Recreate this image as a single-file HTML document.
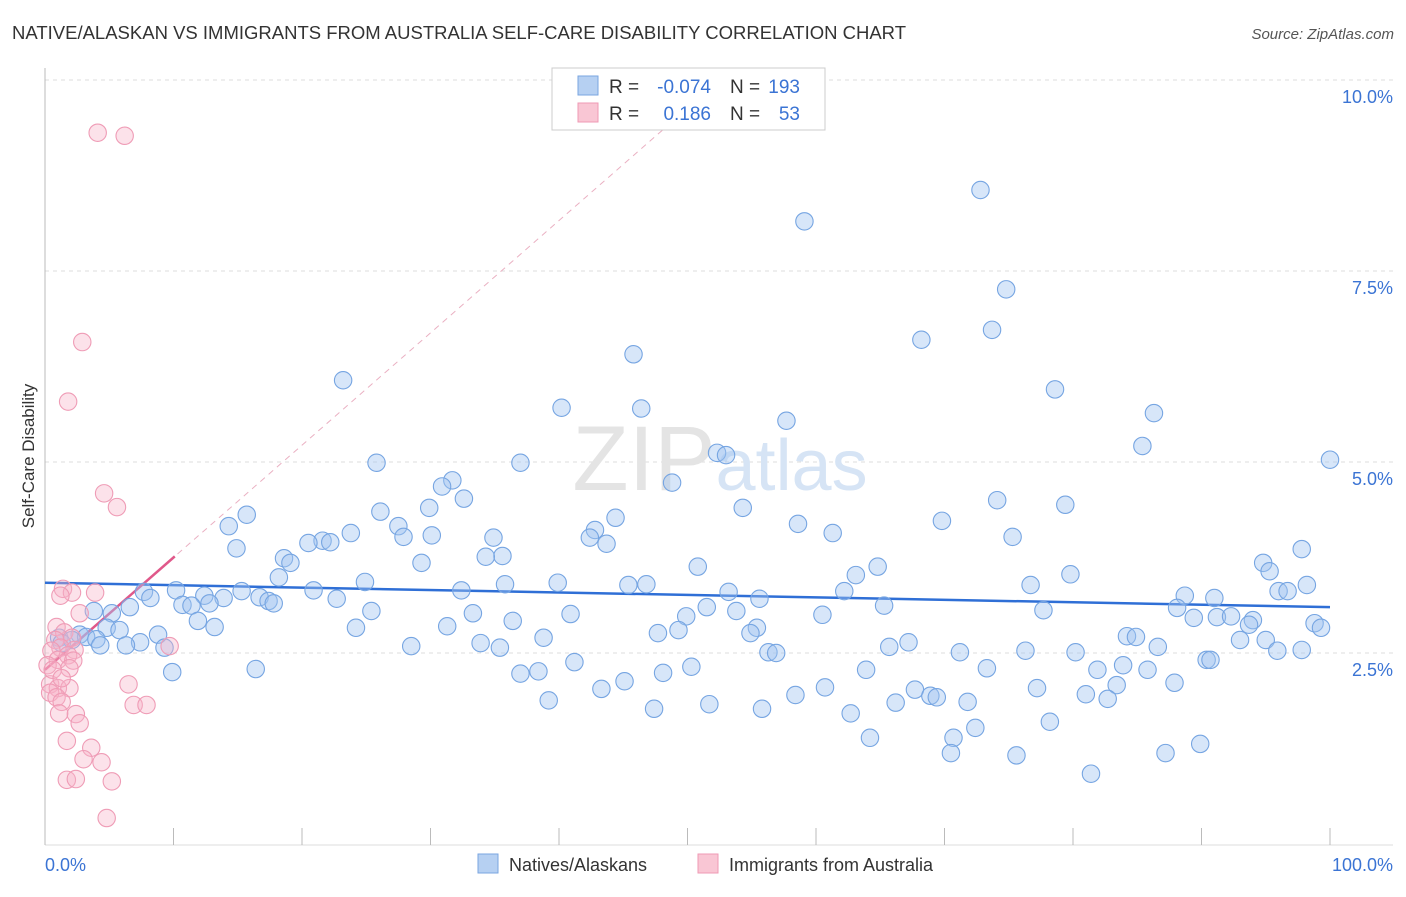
<!DOCTYPE html>
<html><head><meta charset="utf-8"><style>
body{margin:0;background:#fff;font-family:"Liberation Sans",sans-serif}
svg text{font-family:"Liberation Sans",sans-serif}
</style></head><body>
<svg id="chart" width="1406" height="892" xmlns="http://www.w3.org/2000/svg">
<text x="12" y="39" font-size="18.5" fill="#333">NATIVE/ALASKAN VS IMMIGRANTS FROM AUSTRALIA SELF-CARE DISABILITY CORRELATION CHART</text>
<text x="1394" y="39" font-size="15" fill="#555" text-anchor="end" font-style="italic">Source: ZipAtlas.com</text>
<text transform="translate(34,456) rotate(-90)" font-size="17" fill="#333" text-anchor="middle">Self-Care Disability</text>
<g id="grid"></g>
<g id="axes"></g>
<text x="720" y="490" font-size="92" text-anchor="middle" fill="#e4e4e4" font-family="Liberation Serif"><tspan>ZIP</tspan><tspan fill="#d6e4f5" font-family="Liberation Sans" font-size="72">atlas</tspan></text>
<g id="trends"></g>
<g id="pts"></g>
<g>
<rect x="552" y="68" width="273" height="62" fill="#fff" stroke="#ccc"/>
<rect x="578" y="76" width="20" height="19" fill="#b6d0f2" stroke="#7aa6e0"/>
<rect x="578" y="103" width="20" height="19" fill="#f9c6d4" stroke="#ef9ab4"/>
<text x="609" y="93" font-size="19" fill="#333">R =</text><text x="711" y="93" font-size="19" fill="#3b74d4" text-anchor="end">-0.074</text>
<text x="730" y="93" font-size="19" fill="#333">N =</text><text x="800" y="93" font-size="19" fill="#3b74d4" text-anchor="end">193</text>
<text x="609" y="120" font-size="19" fill="#333">R =</text><text x="711" y="120" font-size="19" fill="#3b74d4" text-anchor="end">0.186</text>
<text x="730" y="120" font-size="19" fill="#333">N =</text><text x="800" y="120" font-size="19" fill="#3b74d4" text-anchor="end">53</text>
</g>
<g>
<rect x="478" y="854" width="20" height="19" fill="#b6d0f2" stroke="#7aa6e0"/>
<text x="509" y="871" font-size="18" fill="#333">Natives/Alaskans</text>
<rect x="698" y="854" width="20" height="19" fill="#f9c6d4" stroke="#ef9ab4"/>
<text x="729" y="871" font-size="18" fill="#333">Immigrants from Australia</text>
</g>
</svg>
<script>
const blueX=[72.8,59.1,74.8,73.7,68.2,45.8,23.2,78.6,40.2,46.4,86.3,57.7,85.4,52.3,53.0,100,25.8,37.0,31.7,48.8,30.9,32.6,74.1,79.4,54.3,26.1,15.7,29.9,44.4,14.3,27.5,58.6,69.8,23.8,42.8,34.9,61.3,27.9,30.1,42.4,75.3,21.6,22.2,20.5,43.7,14.9,97.8,35.6,34.3,18.6,19.1,94.8,29.3,64.8,50.8,95.3,63.1,79.8,18.2,24.9,39.9,35.8,76.7,98.2,46.8,45.4,32.4,10.2,15.3,20.9,7.7,96.0,96.7,62.2,53.2,88.7,91.0,8.2,16.7,12.4,13.9,22.7,17.4,6.6,17.8,10.7,12.8,11.4,65.3,55.6,51.5,53.8,88.1,77.7,3.8,5.2,33.3,25.4,40.9,60.5,49.9,89.4,91.2,92.3,11.9,36.4,94.0,98.8,13.2,24.2,31.3,93.7,99.3,4.8,49.3,55.4,5.8,54.9,47.7,8.8,2.7,3.2,38.8,84.2,84.9,1.1,2.1,4.0,1.3,95.0,93.0,7.4,4.3,6.3,67.2,33.9,28.5,65.7,9.3,35.4,86.6,56.3,56.9,71.2,76.3,80.2,97.8,95.9,90.4,90.7,41.2,50.3,73.3,83.9,81.9,63.9,85.8,9.9,16.4,38.4,37.0,48.1,45.1,87.9,83.4,60.7,43.3,67.7,77.2,58.4,81.0,68.9,69.4,82.7,39.2,71.8,66.2,51.7,55.8,47.4,62.7,78.2,72.4,64.2,70.7,89.9,70.5,75.6,87.2,81.4];
const blueY=[8.56,8.15,7.26,6.73,6.60,6.41,6.07,5.95,5.71,5.70,5.64,5.54,5.21,5.12,5.09,5.03,4.99,4.99,4.76,4.73,4.68,4.52,4.50,4.44,4.40,4.35,4.31,4.40,4.27,4.16,4.16,4.19,4.23,4.07,4.11,4.01,4.07,4.02,4.04,4.01,4.02,3.97,3.95,3.94,3.93,3.87,3.86,3.77,3.76,3.74,3.68,3.68,3.68,3.63,3.63,3.57,3.52,3.53,3.49,3.43,3.42,3.40,3.39,3.39,3.40,3.39,3.32,3.32,3.31,3.32,3.30,3.31,3.31,3.31,3.30,3.25,3.22,3.22,3.23,3.25,3.22,3.21,3.18,3.10,3.15,3.13,3.15,3.12,3.12,3.21,3.10,3.05,3.09,3.06,3.05,3.02,3.02,3.05,3.01,3.00,2.98,2.96,2.97,2.98,2.92,2.92,2.93,2.89,2.84,2.83,2.85,2.87,2.83,2.83,2.80,2.83,2.80,2.76,2.76,2.74,2.74,2.71,2.70,2.72,2.71,2.70,2.67,2.68,2.63,2.67,2.67,2.64,2.60,2.60,2.64,2.63,2.59,2.58,2.57,2.57,2.58,2.51,2.50,2.51,2.53,2.51,2.54,2.53,2.41,2.41,2.38,2.32,2.30,2.34,2.28,2.28,2.28,2.25,2.29,2.26,2.23,2.24,2.13,2.11,2.08,2.05,2.03,2.02,2.04,1.95,1.96,1.94,1.92,1.90,1.88,1.86,1.85,1.83,1.77,1.77,1.71,1.60,1.52,1.39,1.39,1.31,1.19,1.16,1.19,0.92];
const pinkX=[4.1,6.2,2.9,1.8,4.6,5.6,1.4,3.9,2.1,1.2,2.7,0.9,1.5,2.1,0.8,9.7,1.2,2.3,0.5,1.8,1.0,2.2,0.2,1.9,6.5,0.4,1.0,1.9,0.4,0.9,1.3,6.9,7.9,2.4,1.1,2.7,1.7,3.6,3.0,4.4,1.7,2.4,5.2,4.8,0.6,1.3];
const pinkY=[9.31,9.27,6.57,5.79,4.59,4.41,3.34,3.29,3.29,3.25,3.02,2.84,2.77,2.70,2.67,2.59,2.57,2.54,2.53,2.47,2.41,2.40,2.34,2.30,2.09,2.09,2.04,2.04,1.98,1.92,1.86,1.82,1.82,1.70,1.71,1.58,1.35,1.26,1.11,1.07,0.84,0.85,0.82,0.34,2.28,2.17];
const yTicks=[2.5,5.0,7.5,10.0];
const xTickLabels=["0.0%","100.0%"];
const blueTrend=[3.42,3.10];
const pinkTrend=[2.28,0.147];
const NS="http://www.w3.org/2000/svg";
const X0=45,X1=1330,Y0=844,PY=76.4;
const sx=v=>X0+v*(X1-X0)/100, sy=v=>Y0-v*PY;
function mk(tag,attrs,parent){const e=document.createElementNS(NS,tag);for(const k in attrs)e.setAttribute(k,attrs[k]);parent.appendChild(e);return e;}
const grid=document.getElementById('grid'),axes=document.getElementById('axes'),tr=document.getElementById('trends'),pts=document.getElementById('pts');
yTicks.forEach(t=>{
 const l=mk('line',{x1:X0,x2:1393,y1:sy(t),y2:sy(t),stroke:'#ddd','stroke-dasharray':'4,4'},grid);
 
 
 const tx=mk('text',{x:1393,y:sy(t)+23,'font-size':18,fill:'#3b74d4','text-anchor':'end'},axes);
 tx.textContent=t.toFixed(1)+'%';
 
 
});
mk('line',{x1:X0,x2:X0,y1:68,y2:845,stroke:'#bbb'},axes);
mk('line',{x1:X0,x2:1393,y1:845,y2:845,stroke:'#ddd'},axes);
for(let i=0;i<=10;i++){const l=mk('line',{x1:sx(i*10),x2:sx(i*10),y1:828,y2:845,stroke:'#bbb'},axes);
 
 }
const xl0=mk('text',{x:45,y:871,'font-size':18,fill:'#3b74d4'},axes);xl0.textContent=xTickLabels[0];


const xl1=mk('text',{x:1393,y:871,'font-size':18,fill:'#3b74d4','text-anchor':'end'},axes);xl1.textContent=xTickLabels[1];


blueX.forEach((x,i)=>{const c=mk('circle',{cx:sx(x),cy:sy(blueY[i]),r:8.7,fill:'rgba(160,195,240,0.42)',stroke:'#76a5e2','stroke-width':1.1},pts);
 
 });
pinkX.forEach((x,i)=>{const c=mk('circle',{cx:sx(x),cy:sy(pinkY[i]),r:8.7,fill:'rgba(248,180,200,0.38)',stroke:'#ef9cb6','stroke-width':1.1},pts);
 
 });
const bt=mk('line',{x1:sx(0),y1:sy(blueTrend[0]),x2:sx(100),y2:sy(blueTrend[1]),stroke:'#2f6fd6','stroke-width':2.5},tr);


const pEnd=(9.4-pinkTrend[0])/pinkTrend[1];
const pd=mk('line',{x1:sx(0),y1:sy(pinkTrend[0]),x2:sx(pEnd),y2:sy(9.4),stroke:'#eab0c2','stroke-width':1,'stroke-dasharray':'6,5'},tr);


const ps=mk('line',{x1:sx(0),y1:sy(pinkTrend[0]),x2:sx(10.1),y2:sy(pinkTrend[0]+pinkTrend[1]*10.1),stroke:'#e0588a','stroke-width':2.5},tr);


</script>
</body></html>
